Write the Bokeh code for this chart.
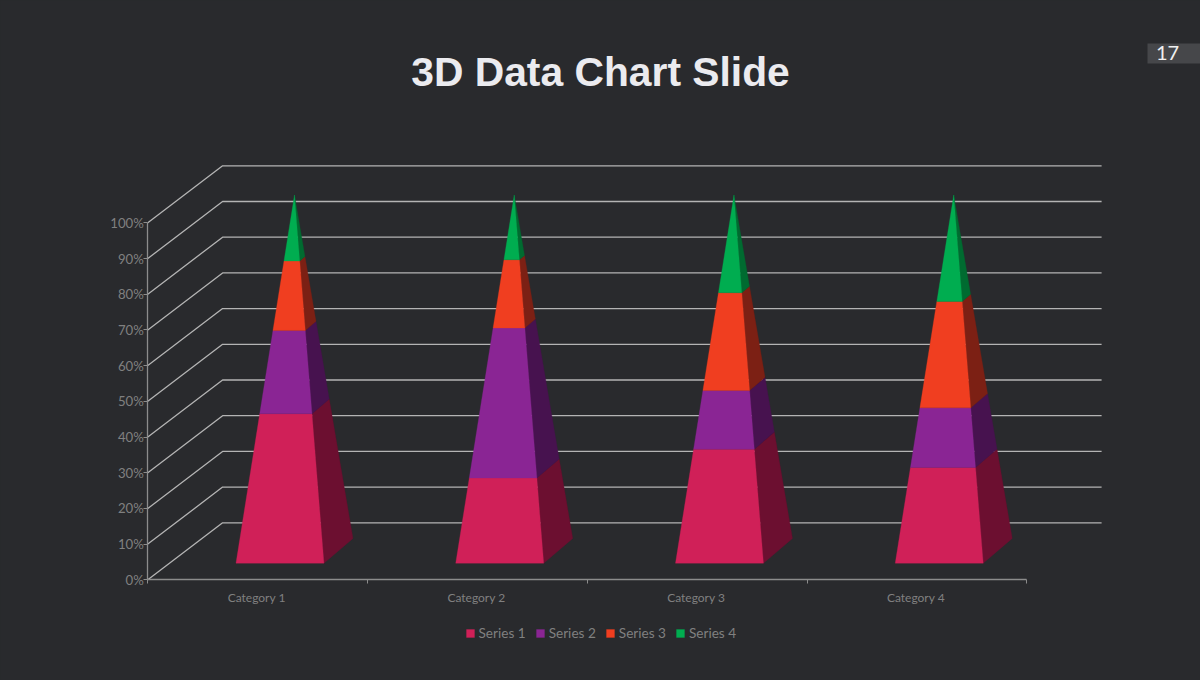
from bokeh.embed import file_html
from bokeh.resources import INLINE
from bokeh.plotting import figure
from bokeh.models import (BoxAnnotation, FixedTicker, Label, Legend, LegendItem,
                          LinearAxis, Range1d)

# ---- data -------------------------------------------------------------
categories = ["Category 1", "Category 2", "Category 3", "Category 4"]
series_names = ["Series 1", "Series 2", "Series 3", "Series 4"]
series_1 = [4.3, 2.5, 3.5, 4.5]
series_2 = [2.4, 4.4, 1.8, 2.8]
series_3 = [2.0, 2.0, 3.0, 5.0]
series_4 = [1.9, 1.9, 3.0, 5.0]
percent_ticks = [0, 10, 20, 30, 40, 50, 60, 70, 80, 90, 100]
percent_labels = ["0%", "10%", "20%", "30%", "40%", "50%", "60%", "70%", "80%", "90%", "100%"]

front_colors = ["#D02058", "#8A2594", "#F03E20", "#00AD50"]
side_colors = ["#6C0F30", "#47124F", "#7C2014", "#006B30"]

BG = "#292A2D"
GRID = "#B4B4B4"
AXIS = "#8C8C8C"
TEXT = "#808080"

# ---- page geometry -----------------------------------------------------
FIG_W, FIG_H = 1200, 680
ORIGIN_X, ORIGIN_Y = 147.3, 579.3
PX_X = 219.75            # pixels per category
PX_Y = 3.57              # pixels per percent


def dx(px):
    return px / PX_X


def dy(px):
    return px / PX_Y


def x_of(px):
    return (px - ORIGIN_X) / PX_X


def y_of(py):
    return (ORIGIN_Y - py) / PX_Y


p = figure(width=FIG_W, height=FIG_H, output_backend="svg", toolbar_location=None,
           x_range=Range1d(x_of(0), x_of(FIG_W)), y_range=Range1d(y_of(FIG_H), y_of(0)),
           x_axis_type=None, y_axis_type=None, min_border=0,
           background_fill_color=BG, border_fill_color=BG, outline_line_color=None)
p.grid.visible = False

# ---- axes --------------------------------------------------------------
y_axis = LinearAxis(ticker=FixedTicker(ticks=percent_ticks), bounds=(0, 100), fixed_location=0,
                    major_label_overrides=dict(zip(percent_ticks, percent_labels)))
y_axis.major_tick_out = 4
y_axis.major_tick_in = 0
y_axis.minor_tick_line_color = None
y_axis.major_label_standoff = 0
y_axis.major_label_text_font = "Lato"
y_axis.major_label_text_font_size = "13.2px"
y_axis.major_label_text_color = TEXT
y_axis.axis_line_color = AXIS
y_axis.axis_line_width = 1.3
y_axis.major_tick_line_color = AXIS
p.add_layout(y_axis, "left")

cat_pos = [i + 0.5 - dx(1) for i in range(len(categories))]
x_axis = LinearAxis(ticker=FixedTicker(ticks=cat_pos,
                                       minor_ticks=list(range(len(categories) + 1))),
                    bounds=(0, len(categories)), fixed_location=0,
                    major_label_overrides=dict(zip(cat_pos, categories)))
x_axis.major_tick_line_color = None
x_axis.major_tick_out = 0
x_axis.major_tick_in = 0
x_axis.minor_tick_out = 4
x_axis.minor_tick_in = 0
x_axis.minor_tick_line_color = AXIS
x_axis.major_label_standoff = 6
x_axis.major_label_text_font = "Lato"
x_axis.major_label_text_font_size = "12px"
x_axis.major_label_text_color = TEXT
x_axis.axis_line_color = AXIS
x_axis.axis_line_width = 1.3
p.add_layout(x_axis, "below")

# ---- 3-D wall and floor ------------------------------------------------
DEPTH_X, DEPTH_Y = dx(74.8), dy(57)
n_cat = len(categories)
wall_xs = [[0, DEPTH_X, n_cat + DEPTH_X] for _ in percent_ticks]
wall_ys = [[v, v + DEPTH_Y, v + DEPTH_Y] for v in percent_ticks]
p.multi_line(wall_xs, wall_ys, line_color=GRID, line_width=1.3)

# ---- pyramids ----------------------------------------------------------
CORNER_FL = (dx(-58.5), dy(-12.4))
CORNER_FR = (dx(29.5), dy(-12.4))
CORNER_BR = (dx(58.5), dy(12.4))
BASE_Y = dy(29)
APEX_Y = y_of(194.5)
NUDGE_X = dx(-0.6)


def corner(i, corner_vec, f):
    cx = i + 0.5 + DEPTH_X / 2 + NUDGE_X
    cy = BASE_Y + (APEX_Y - BASE_Y) * f
    return cx + corner_vec[0] * (1 - f), cy + corner_vec[1] * (1 - f)


all_series = [series_1, series_2, series_3, series_4]
cum = [0.0] * n_cat
front_renderers = []
for s, values in enumerate(all_series):
    fx, fy, sx, sy = [], [], [], []
    for i in range(n_cat):
        total = sum(ser[i] for ser in all_series)
        f0 = cum[i] / total
        f1 = (cum[i] + values[i]) / total
        cum[i] += values[i]
        a, b = corner(i, CORNER_FL, f0), corner(i, CORNER_FR, f0)
        c, d = corner(i, CORNER_FR, f1), corner(i, CORNER_FL, f1)
        e, g = corner(i, CORNER_BR, f0), corner(i, CORNER_BR, f1)
        fx.append([a[0], b[0], c[0], d[0]])
        fy.append([a[1], b[1], c[1], d[1]])
        sx.append([b[0], e[0], g[0], c[0]])
        sy.append([b[1], e[1], g[1], c[1]])
    p.patches(sx, sy, fill_color=side_colors[s], line_color=side_colors[s], line_width=0.3)
    front_renderers.append(p.patches(fx, fy, fill_color=front_colors[s],
                                     line_color=front_colors[s], line_width=0.3))

# ---- legend ------------------------------------------------------------
legend = Legend(items=[LegendItem(label=n, renderers=[r])
                       for n, r in zip(series_names, front_renderers)],
                orientation="horizontal", location=(464.5, FIG_H - 641),
                background_fill_alpha=0, border_line_color=None,
                padding=0, margin=0, spacing=9,
                glyph_width=10, glyph_height=10, label_standoff=4,
                label_text_font="Lato", label_text_font_size="13.6px",
                label_text_color=TEXT, label_height=14)
p.add_layout(legend, "center")

# ---- title and page number ---------------------------------------------
p.add_layout(Label(x=x_of(600), y=y_of(71), text="3D Data Chart Slide",
                   text_font="Liberation Sans", text_font_style="bold",
                   text_font_size="40.8px", text_color="#EBEBEF",
                   text_align="center", text_baseline="middle"))
p.add_layout(BoxAnnotation(left=x_of(1147), right=x_of(1200), top=y_of(43), bottom=y_of(63),
                           fill_color="#46474A", fill_alpha=1, line_color=None))
p.add_layout(Label(x=x_of(1167), y=y_of(52), text="17",
                   text_font="Lato", text_font_size="20px", text_color="#F0F0F0",
                   text_align="center", text_baseline="middle"))

html = file_html(p, INLINE)
html = html.replace("</head>", f"<style>html,body{{background:{BG};}}</style></head>", 1)
open("out.html", "w").write(html)
